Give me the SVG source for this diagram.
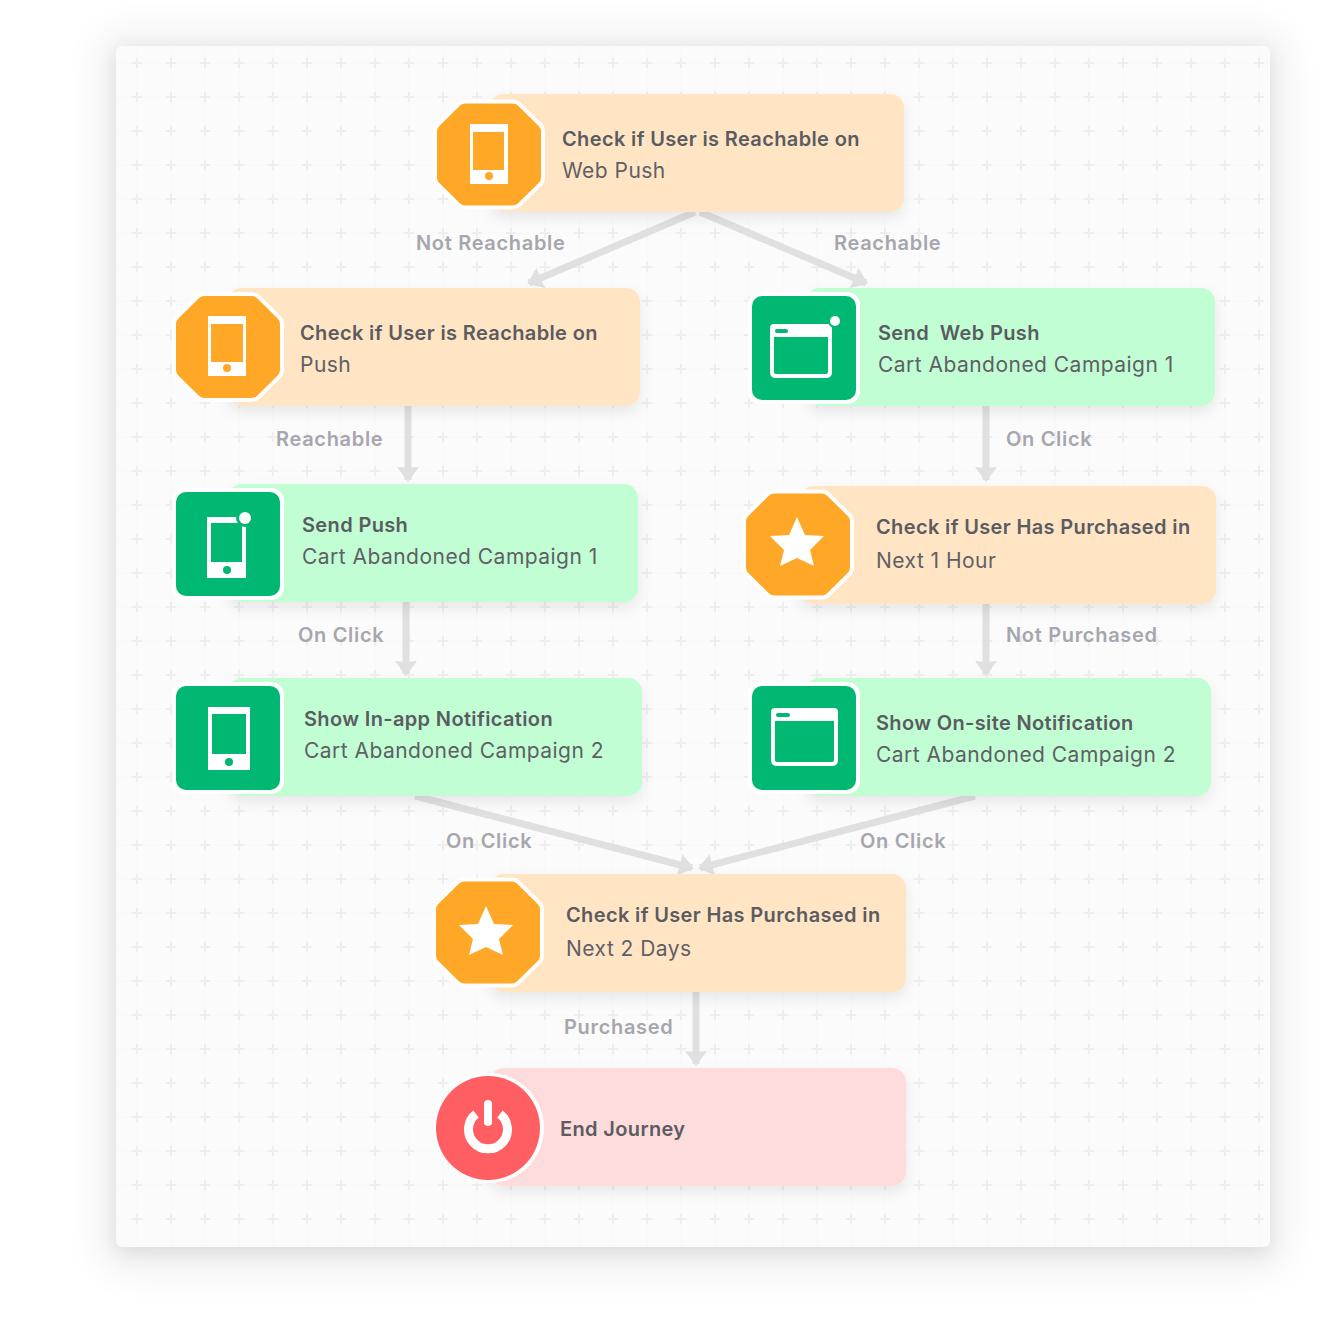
<svg xmlns="http://www.w3.org/2000/svg" width="1320" height="1328" viewBox="0 0 1320 1328">
<style>
text{font-family:Inter,"Liberation Sans",sans-serif}
.t{font-size:20px;font-weight:600;letter-spacing:.36px;fill:#5b5b62}
.b{font-size:21px;font-weight:400;letter-spacing:.47px;fill:#5f5f66}
.l{font-size:20px;font-weight:600;letter-spacing:.68px;fill:#a6a6ae}
.oc{fill:#ffa726}.gr{fill:#00b871}
.or{fill:#ffe5c4}.gn{fill:#c1fed3}.pk{fill:#ffdcdc}
.w{fill:#fff}
.c{stroke:#e0e0e0;stroke-width:7;fill:none;marker-end:url(#a)}
.card{filter:url(#cs)}
</style>
<defs>
<filter id="ps" x="-10%" y="-10%" width="120%" height="120%"><feGaussianBlur stdDeviation="10"/></filter>
<filter id="ps2" x="-10%" y="-10%" width="120%" height="120%"><feGaussianBlur stdDeviation="18"/></filter>
<filter id="cs" x="-10%" y="-20%" width="120%" height="150%"><feDropShadow dx="0" dy="6" stdDeviation="7" flood-color="#000" flood-opacity=".08"/></filter>
<marker id="a" markerUnits="userSpaceOnUse" markerWidth="24" markerHeight="24" refX="13" refY="11" orient="auto"><path d="M0 0L15 11L0 22L1 11Z" fill="#e0e0e0"/></marker>
<pattern id="g" patternUnits="userSpaceOnUse" x="120" y="46" width="34" height="34">
<path d="M17 0V34M0 17H34" stroke="#f8f8f8" stroke-width="1" fill="none"/>
<path d="M17 12V22M12 17H22" stroke="#eeeeee" stroke-width="2" fill="none"/>
</pattern>
<path id="op" d="M-23.500-44H23.500L44-23.500V23.500L23.500 44H-23.500L-44 23.500V-23.500Z" stroke-linejoin="round"/>
<g id="oct" transform="scale(1 .98)"><use href="#op" fill="#fff" stroke="#fff" stroke-width="24"/><use href="#op" fill="#ffa726" stroke="#ffa726" stroke-width="16"/></g>
<g id="sq"><rect x="-56" y="-56" width="112" height="112" rx="13" class="w"/><rect x="-52" y="-52" width="104" height="104" rx="10" class="gr"/></g>
<path id="star" d="M0-27L8-9L27-8L13 6L17 22L0 14L-17 22L-13 6L-27-8L-8-9Z" class="w"/>
</defs>
<rect id="panel-shadow-wide" x="96" y="28" width="1194" height="1246" rx="30" fill="#000" opacity=".05" filter="url(#ps2)"/>
<rect id="panel-shadow" x="116" y="50" width="1154" height="1203" rx="6" fill="#000" opacity=".09" filter="url(#ps)"/>
<rect id="panel" x="116" y="46" width="1154" height="1201" rx="6" fill="#fbfbfb"/>
<rect id="grid" x="116" y="46" width="1154" height="1201" rx="6" fill="url(#g)"/>
<g id="connectors">
<path class="c" d="M695 212L529 283"/>
<path class="c" d="M700 212L866 283"/>
<path class="c" d="M408 406V480"/>
<path class="c" d="M406 602V674"/>
<path class="c" d="M986 406V480"/>
<path class="c" d="M986 604V674"/>
<path class="c" d="M696 992V1064"/>
<path class="c" d="M415 796L692 868"/>
<path class="c" d="M975 796L700 868"/>
</g>
<g id="edge-labels">
<text class="l" x="416" y="250">Not Reachable</text>
<text class="l" x="834" y="250">Reachable</text>
<text class="l" x="276" y="446">Reachable</text>
<text class="l" x="1006" y="446">On Click</text>
<text class="l" x="298" y="642">On Click</text>
<text class="l" x="1006" y="642">Not Purchased</text>
<text class="l" x="446" y="848">On Click</text>
<text class="l" x="860" y="848">On Click</text>
<text class="l" x="564" y="1034">Purchased</text>
</g>
<g id="n1">
<rect class="or card" x="490" y="94" width="414" height="118" rx="14"/>
<use href="#oct" x="489" y="154.500"/>
<path class="w" fill-rule="evenodd" d="M470 124H508V184H470ZM473 132V170H504V132Z"/><circle cx="489" cy="176" r="4" class="oc"/>
<text class="t" x="562" y="146">Check if User is Reachable on</text>
<text class="b" x="562" y="178">Web Push</text>
</g>
<g id="n2">
<rect class="or card" x="228" y="288" width="412" height="118" rx="14"/>
<use href="#oct" x="228" y="347"/>
<path class="w" fill-rule="evenodd" d="M208 316H246V376H208ZM211 324V362H243V324Z"/><circle cx="227" cy="368" r="4" class="oc"/>
<text class="t" x="300" y="340">Check if User is Reachable on</text>
<text class="b" x="300" y="372">Push</text>
</g>
<g id="n3">
<rect class="gn card" x="806" y="288" width="409" height="118" rx="14"/>
<use href="#sq" x="804" y="348"/>
<path class="w" fill-rule="evenodd" d="M774 324H828Q832 324 832 328V372Q832 378 826 378H776Q770 378 770 372V328Q770 324 774 324ZM774 337V372Q774 374 776 374H826Q828 374 828 372V337Z"/>
<rect x="775" y="329" width="13" height="4" rx="2" class="gr"/>
<circle cx="835" cy="321" r="7" class="gr"/><circle cx="835" cy="321" r="5" class="w"/>
<text class="t" x="878" y="340" xml:space="preserve">Send  Web Push</text>
<text class="b" x="878" y="372">Cart Abandoned Campaign 1</text>
</g>
<g id="n4">
<rect class="gn card" x="228" y="484" width="410" height="118" rx="14"/>
<use href="#sq" x="228" y="544"/>
<path class="w" fill-rule="evenodd" d="M207 517H246V578H207ZM211 523V562H242V523Z"/><circle cx="227" cy="570" r="4" class="gr"/>
<circle cx="245" cy="518" r="9" class="gr"/><circle cx="245" cy="518" r="6" class="w"/>
<text class="t" x="302" y="532">Send Push</text>
<text class="b" x="302" y="564">Cart Abandoned Campaign 1</text>
</g>
<g id="n5">
<rect class="gn card" x="228" y="678" width="414" height="118" rx="14"/>
<use href="#sq" x="228" y="738"/>
<path class="w" fill-rule="evenodd" d="M208 707H250V770H208ZM212 714V754H246V714Z"/><circle cx="229" cy="762" r="4" class="gr"/>
<text class="t" x="304" y="726">Show In-app Notification</text>
<text class="b" x="304" y="758">Cart Abandoned Campaign 2</text>
</g>
<g id="n6">
<rect class="or card" x="800" y="486" width="416" height="118" rx="14"/>
<use href="#oct" x="798" y="544.500"/>
<use href="#star" x="797" y="544"/>
<text class="t" x="876" y="534">Check if User Has Purchased in</text>
<text class="b" x="876" y="568">Next 1 Hour</text>
</g>
<g id="n7">
<rect class="gn card" x="806" y="678" width="405" height="118" rx="14"/>
<use href="#sq" x="804" y="738"/>
<path class="w" fill-rule="evenodd" d="M775 708H834Q838 708 838 712V760Q838 766 832 766H777Q771 766 771 760V712Q771 708 775 708ZM775 721V760Q775 762 777 762H832Q834 762 834 760V721Z"/>
<rect x="776" y="713" width="14" height="4" rx="2" class="gr"/>
<text class="t" x="876" y="730">Show On-site Notification</text>
<text class="b" x="876" y="762">Cart Abandoned Campaign 2</text>
</g>
<g id="n8">
<rect class="or card" x="490" y="874" width="416" height="118" rx="14"/>
<use href="#oct" x="488" y="932.500"/>
<use href="#star" x="486" y="933"/>
<text class="t" x="566" y="922">Check if User Has Purchased in</text>
<text class="b" x="566" y="956">Next 2 Days</text>
</g>
<g id="n9">
<rect class="pk card" x="490" y="1068" width="416" height="118" rx="14"/>
<circle cx="489" cy="1128" r="55" class="w"/><circle cx="488" cy="1128" r="52" fill="#ff5f63"/>
<path d="M476 1114A19.500 19.500 0 1 0 500 1114" fill="none" stroke="#fff" stroke-width="9"/>
<path d="M488 1104V1122" stroke="#fff" stroke-width="8" stroke-linecap="round"/>
<text class="t" x="560" y="1136">End Journey</text>
</g>
</svg>
